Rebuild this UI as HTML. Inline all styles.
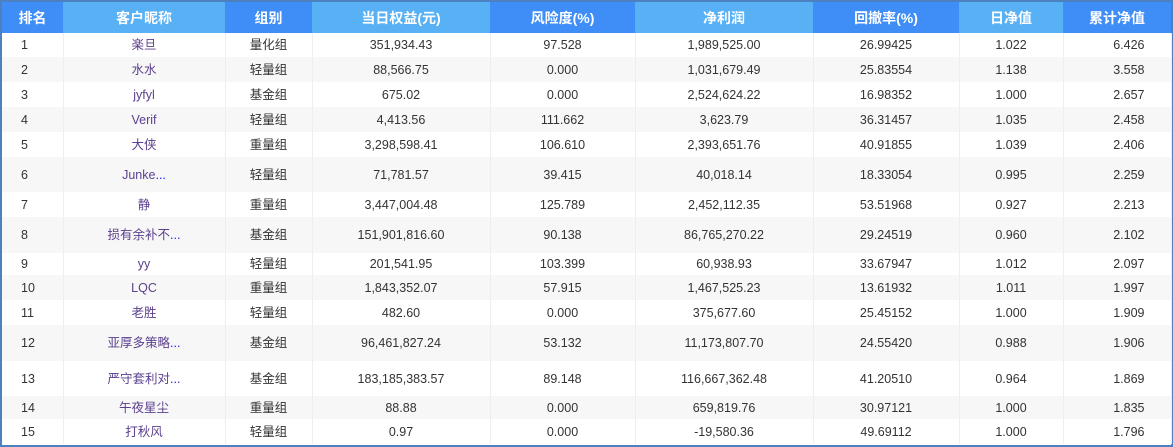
<!DOCTYPE html>
<html><head><meta charset="utf-8"><style>
body{margin:0;width:1173px;height:447px;overflow:hidden;background:#fff;font-family:"Liberation Sans","Noto Sans CJK SC",sans-serif;}
#wrap{position:absolute;left:0;top:0;width:1169px;height:443px;border:2px solid #4d80bf;background:#fff;}
table{border-collapse:collapse;table-layout:fixed;width:1169px;font-size:12.5px;color:#333;}
th{height:31px;color:#fff;font-size:14px;font-weight:bold;padding:0;text-align:center;line-height:16px;vertical-align:middle;}
th.d{background:#3f8ef7;} th.l{background:#58b1f4;}
td{padding:0;text-align:center;border-right:1px solid #eeeeee;line-height:14px;vertical-align:middle;white-space:nowrap;overflow:hidden;}
tr:nth-child(even) td{background:#f7f7f7;}
td.rk{text-align:left;padding-left:19px;}
td.nm{color:#5b3f8e;}
td.nm span{color:#1a1aff;}
td.last{text-align:right;padding-right:26px;}
</style></head><body>
<div id="wrap">
<table>
<colgroup><col style="width:61px"><col style="width:162px"><col style="width:87px"><col style="width:178px"><col style="width:145px"><col style="width:178px"><col style="width:146px"><col style="width:104px"><col style="width:108px"></colgroup>
<thead><tr>
<th class="d">排名</th>
<th class="l">客户昵称</th>
<th class="d">组别</th>
<th class="l">当日权益(元)</th>
<th class="d">风险度(%)</th>
<th class="l">净利润</th>
<th class="d">回撤率(%)</th>
<th class="l">日净值</th>
<th class="d">累计净值</th>
</tr></thead>
<tbody id="tb"></tbody>
</table></div>
<script>
const ranks=[1,2,3,4,5,6,7,8,9,10,11,12,13,14,15];
const names=["楽旦","水水","jyfyl","Verif","大侠","Junke","静","损有余补不","yy","LQC","老胜","亚厚多策略","严守套利对","午夜星尘","打秋风"];
const truncated=[0,0,0,0,0,1,0,1,0,0,0,1,1,0,0];
const groups=["量化组","轻量组","基金组","轻量组","重量组","轻量组","重量组","基金组","轻量组","重量组","轻量组","基金组","基金组","重量组","轻量组"];
const equity=["351,934.43","88,566.75","675.02","4,413.56","3,298,598.41","71,781.57","3,447,004.48","151,901,816.60","201,541.95","1,843,352.07","482.60","96,461,827.24","183,185,383.57","88.88","0.97"];
const risk=["97.528","0.000","0.000","111.662","106.610","39.415","125.789","90.138","103.399","57.915","0.000","53.132","89.148","0.000","0.000"];
const profit=["1,989,525.00","1,031,679.49","2,524,624.22","3,623.79","2,393,651.76","40,018.14","2,452,112.35","86,765,270.22","60,938.93","1,467,525.23","375,677.60","11,173,807.70","116,667,362.48","659,819.76","-19,580.36"];
const drawdown=["26.99425","25.83554","16.98352","36.31457","40.91855","18.33054","53.51968","29.24519","33.67947","13.61932","25.45152","24.55420","41.20510","30.97121","49.69112"];
const dailyNav=["1.022","1.138","1.000","1.035","1.039","0.995","0.927","0.960","1.012","1.011","1.000","0.988","0.964","1.000","1.000"];
const cumNav=["6.426","3.558","2.657","2.458","2.406","2.259","2.213","2.102","2.097","1.997","1.909","1.906","1.869","1.835","1.796"];
const heights=[24,25,25,25,25,35,25,36,22,25,25,36,35,23,25];
const tb=document.getElementById('tb');
ranks.forEach((r,i)=>{
  const tr=document.createElement('tr');
  
  
  tr.style.height=heights[i]+'px';
  const vals=[r,names[i],groups[i],equity[i],risk[i],profit[i],drawdown[i],dailyNav[i],cumNav[i]];
  const keys=['rank','nickname','group','equity','risk','profit','drawdown','daily-nav','cum-nav'];
  vals.forEach((v,j)=>{
    const td=document.createElement('td');
    
    
    td.style.height=heights[i]+'px';
    if(j==0)td.className='rk';
    if(j==1){td.className='nm';td.textContent=v;if(truncated[i]){const s=document.createElement('span');s.textContent='...';td.appendChild(s);}}
    else td.textContent=v;
    if(j==8)td.className='last';
    tr.appendChild(td);
  });
  tb.appendChild(tr);
});
</script>
</body></html>
